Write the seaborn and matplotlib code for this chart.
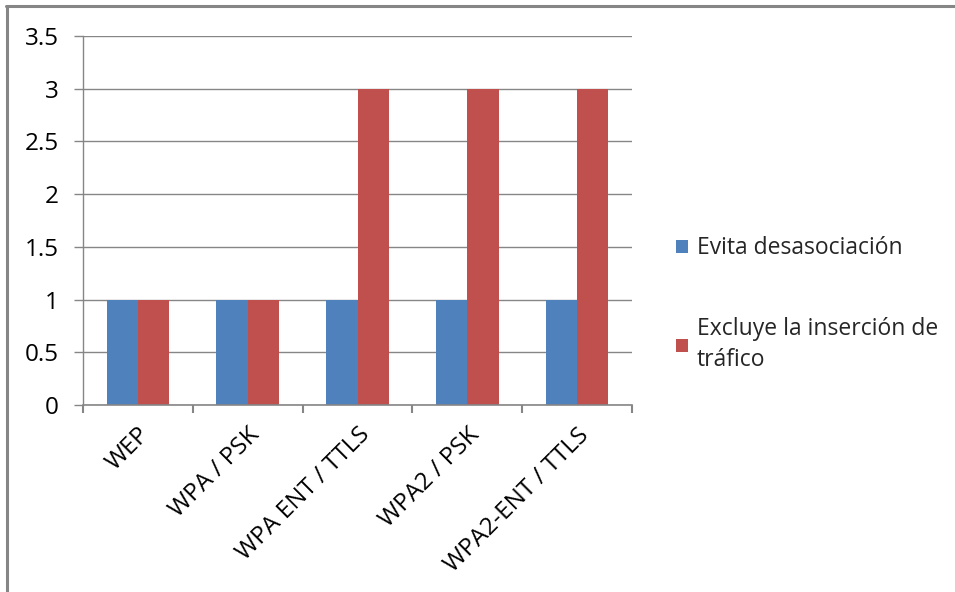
import matplotlib
matplotlib.use("Agg")
import matplotlib.pyplot as plt
from matplotlib.lines import Line2D
from matplotlib.patches import Patch
import seaborn as sns
import pandas as pd
import numpy as np

categories = ["WEP", "WPA / PSK", "WPA ENT / TTLS", "WPA2 / PSK", "WPA2-ENT / TTLS"]
evita = [1, 1, 1, 1, 1]
excluye = [1, 1, 3, 3, 3]
series_names = ["Evita desasociación", "Excluye la inserción de\ntráfico"]
yticks = [0, 0.5, 1, 1.5, 2, 2.5, 3, 3.5]
ytick_labels = ["0", "0.5", "1", "1.5", "2", "2.5", "3", "3.5"]
colors = ["#4F81BD", "#C0504D"]

df = pd.DataFrame({
    "cat": categories * 2,
    "serie": [series_names[0]] * len(categories) + [series_names[1]] * len(categories),
    "valor": evita + excluye,
})

sns.set_theme(style="white")
plt.rcParams["font.family"] = ["Open Sans", "DejaVu Sans"]

W, H = 955, 592
fig = plt.figure(figsize=(W / 100, H / 100), dpi=100)
ax = fig.add_axes([83 / W, 1 - 405 / H, (632 - 83) / W, (405 - 36) / H])

sns.barplot(data=df, x="cat", y="valor", hue="serie", palette=colors,
            width=0.57, saturation=1, ax=ax, legend=False, linewidth=0)

grid_c = "#868686"
ax.set_ylim(0, 3.5)
ax.set_xlim(-0.5, len(categories) - 0.5)
ax.set_yticks(yticks)
ax.set_yticklabels(ytick_labels, fontsize=17.5, color="black")
ax.yaxis.grid(True, color=grid_c, linewidth=1)
ax.set_axisbelow(True)
ax.tick_params(axis="y", length=6.5, width=1, color=grid_c, pad=11, left=True)

# category labels on major ticks (no marks), boundary marks on minor ticks
ax.set_xticks(range(len(categories)))
ax.set_xticklabels(categories, rotation=45, ha="right", rotation_mode="anchor",
                   fontsize=17.5, color="black")
ax.tick_params(axis="x", length=0, pad=13)
ax.set_xticks(np.arange(-0.5, len(categories), 1), minor=True)
ax.tick_params(axis="x", which="minor", length=6, width=1.5, color=grid_c, bottom=True)

ax.set_xlabel("")
ax.set_ylabel("")
for side in ["top", "right"]:
    ax.spines[side].set_visible(False)
ax.spines["left"].set_color(grid_c)
ax.spines["bottom"].set_color(grid_c)
ax.spines["left"].set_linewidth(1)
ax.spines["bottom"].set_linewidth(1.2)

handles = [Patch(facecolor=c, edgecolor="none") for c in colors]
leg = fig.legend(handles, series_names, loc="upper left",
                 bbox_to_anchor=(665 / W, 1 - 225 / H), frameon=False,
                 fontsize=16.5, handlelength=0.5, handleheight=0.5,
                 handletextpad=0.4, labelspacing=2.45, borderpad=0)
for t in leg.get_texts():
    t.set_linespacing(1.4)

# outer chart frame
fig.add_artist(Line2D([6 / W, 1], [1 - 6 / H, 1 - 6 / H], transform=fig.transFigure,
                      color=grid_c, linewidth=2.2))
fig.add_artist(Line2D([7 / W, 7 / W], [0, 1 - 6 / H], transform=fig.transFigure,
                      color=grid_c, linewidth=2.2))

fig.savefig("out.png", dpi=100, facecolor="white")
